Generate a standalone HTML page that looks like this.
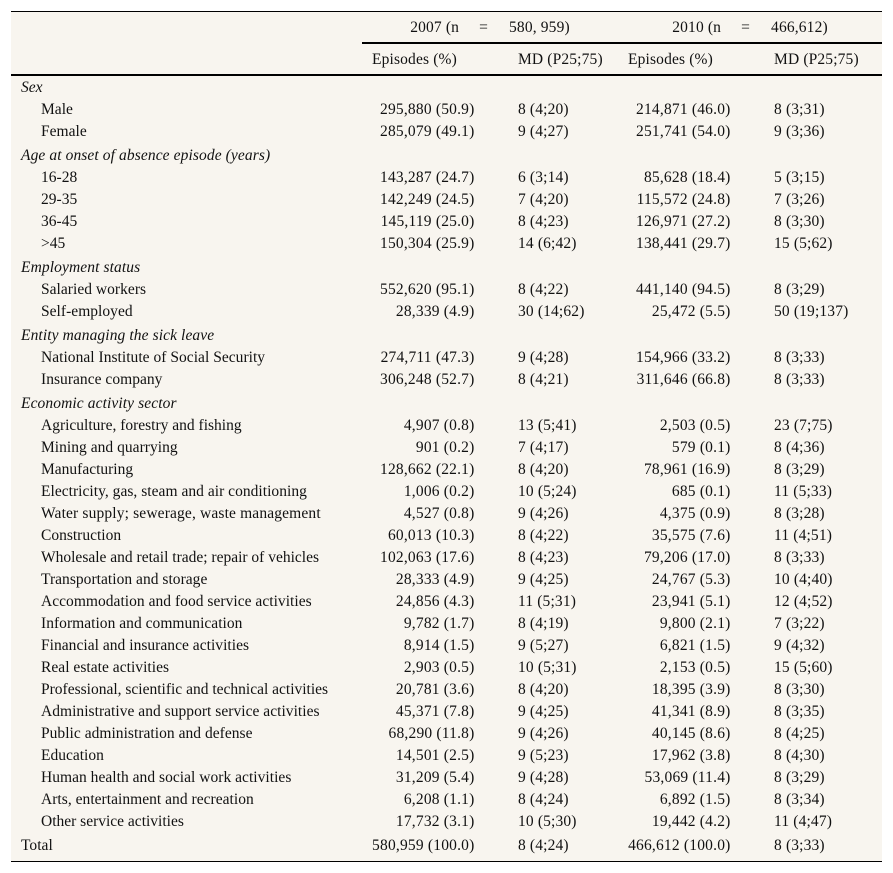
<!DOCTYPE html>
<html lang="en">
<head>
<meta charset="utf-8">
<title>Sick leave episodes table</title>
<style>
html,body{margin:0;padding:0;background:#fff;}
body{width:893px;height:873px;overflow:hidden;position:relative;}
table{position:absolute;left:11px;top:11px;width:871px;table-layout:fixed;border-collapse:separate;border-spacing:0;background:#f8f5ef;border-top:1px solid #000;border-bottom:1px solid #000;font-family:"Liberation Serif",serif;font-size:15.5px;color:#111;}
th,td{padding:2px 0 0 0;font-weight:normal;white-space:nowrap;height:20px;line-height:20px;}
th{letter-spacing:.15px;}
.top th{height:28px;border-bottom:2px solid #000;text-align:center;}
.top th.e{border-bottom:none;height:30px;}
.sub th{height:28px;border-bottom:2px solid #000;text-align:left;padding-left:10px;}
.sub th.e{padding-left:0;}
td.l{padding-left:30px;letter-spacing:.03px;}
td.v{text-align:right;padding-right:33.5px;letter-spacing:.2px;}
td.m{padding-left:10px;letter-spacing:.15px;}
tr.s td{font-style:italic;padding-left:10px;padding-top:4px;height:20px;letter-spacing:.1px;}
tr.s.f td{height:20px;padding-top:2px;letter-spacing:0;}
tr.t td{height:26px;padding-top:3px;line-height:22px;vertical-align:top;}
tr.t td.l{padding-left:10px;}
td.l.w{letter-spacing:.15px;}
td.l.n{letter-spacing:0;}
.eq{margin:0 17px 0 16px;}
</style>
</head>
<body>
<table>
<colgroup><col style="width:351px"><col style="width:146px"><col style="width:110px"><col style="width:146px"><col style="width:118px"></colgroup>
<thead>
<tr class="top"><th class="e"></th><th colspan="2">2007 (n <span class="eq">=</span> 580, 959)</th><th colspan="2">2010 (n <span class="eq">=</span> 466,612)</th></tr>
<tr class="sub"><th class="e"></th><th>Episodes (%)</th><th>MD (P25;75)</th><th>Episodes (%)</th><th>MD (P25;75)</th></tr>
</thead>
<tbody>
<tr class="s f"><td colspan="5">Sex</td></tr>
<tr><td class="l">Male</td><td class="v">295,880 (50.9)</td><td class="m">8 (4;20)</td><td class="v">214,871 (46.0)</td><td class="m">8 (3;31)</td></tr>
<tr><td class="l">Female</td><td class="v">285,079 (49.1)</td><td class="m">9 (4;27)</td><td class="v">251,741 (54.0)</td><td class="m">9 (3;36)</td></tr>
<tr class="s"><td colspan="5">Age at onset of absence episode (years)</td></tr>
<tr><td class="l">16-28</td><td class="v">143,287 (24.7)</td><td class="m">6 (3;14)</td><td class="v">85,628 (18.4)</td><td class="m">5 (3;15)</td></tr>
<tr><td class="l">29-35</td><td class="v">142,249 (24.5)</td><td class="m">7 (4;20)</td><td class="v">115,572 (24.8)</td><td class="m">7 (3;26)</td></tr>
<tr><td class="l">36-45</td><td class="v">145,119 (25.0)</td><td class="m">8 (4;23)</td><td class="v">126,971 (27.2)</td><td class="m">8 (3;30)</td></tr>
<tr><td class="l">&gt;45</td><td class="v">150,304 (25.9)</td><td class="m">14 (6;42)</td><td class="v">138,441 (29.7)</td><td class="m">15 (5;62)</td></tr>
<tr class="s"><td colspan="5">Employment status</td></tr>
<tr><td class="l">Salaried workers</td><td class="v">552,620 (95.1)</td><td class="m">8 (4;22)</td><td class="v">441,140 (94.5)</td><td class="m">8 (3;29)</td></tr>
<tr><td class="l">Self-employed</td><td class="v">28,339 (4.9)</td><td class="m">30 (14;62)</td><td class="v">25,472 (5.5)</td><td class="m">50 (19;137)</td></tr>
<tr class="s"><td colspan="5">Entity managing the sick leave</td></tr>
<tr><td class="l">National Institute of Social Security</td><td class="v">274,711 (47.3)</td><td class="m">9 (4;28)</td><td class="v">154,966 (33.2)</td><td class="m">8 (3;33)</td></tr>
<tr><td class="l">Insurance company</td><td class="v">306,248 (52.7)</td><td class="m">8 (4;21)</td><td class="v">311,646 (66.8)</td><td class="m">8 (3;33)</td></tr>
<tr class="s"><td colspan="5">Economic activity sector</td></tr>
<tr><td class="l n">Agriculture, forestry and fishing</td><td class="v">4,907 (0.8)</td><td class="m">13 (5;41)</td><td class="v">2,503 (0.5)</td><td class="m">23 (7;75)</td></tr>
<tr><td class="l">Mining and quarrying</td><td class="v">901 (0.2)</td><td class="m">7 (4;17)</td><td class="v">579 (0.1)</td><td class="m">8 (4;36)</td></tr>
<tr><td class="l n">Manufacturing</td><td class="v">128,662 (22.1)</td><td class="m">8 (4;20)</td><td class="v">78,961 (16.9)</td><td class="m">8 (3;29)</td></tr>
<tr><td class="l">Electricity, gas, steam and air conditioning</td><td class="v">1,006 (0.2)</td><td class="m">10 (5;24)</td><td class="v">685 (0.1)</td><td class="m">11 (5;33)</td></tr>
<tr><td class="l w">Water supply; sewerage, waste management</td><td class="v">4,527 (0.8)</td><td class="m">9 (4;26)</td><td class="v">4,375 (0.9)</td><td class="m">8 (3;28)</td></tr>
<tr><td class="l n">Construction</td><td class="v">60,013 (10.3)</td><td class="m">8 (4;22)</td><td class="v">35,575 (7.6)</td><td class="m">11 (4;51)</td></tr>
<tr><td class="l n">Wholesale and retail trade; repair of vehicles</td><td class="v">102,063 (17.6)</td><td class="m">8 (4;23)</td><td class="v">79,206 (17.0)</td><td class="m">8 (3;33)</td></tr>
<tr><td class="l">Transportation and storage</td><td class="v">28,333 (4.9)</td><td class="m">9 (4;25)</td><td class="v">24,767 (5.3)</td><td class="m">10 (4;40)</td></tr>
<tr><td class="l">Accommodation and food service activities</td><td class="v">24,856 (4.3)</td><td class="m">11 (5;31)</td><td class="v">23,941 (5.1)</td><td class="m">12 (4;52)</td></tr>
<tr><td class="l">Information and communication</td><td class="v">9,782 (1.7)</td><td class="m">8 (4;19)</td><td class="v">9,800 (2.1)</td><td class="m">7 (3;22)</td></tr>
<tr><td class="l">Financial and insurance activities</td><td class="v">8,914 (1.5)</td><td class="m">9 (5;27)</td><td class="v">6,821 (1.5)</td><td class="m">9 (4;32)</td></tr>
<tr><td class="l">Real estate activities</td><td class="v">2,903 (0.5)</td><td class="m">10 (5;31)</td><td class="v">2,153 (0.5)</td><td class="m">15 (5;60)</td></tr>
<tr><td class="l n">Professional, scientific and technical activities</td><td class="v">20,781 (3.6)</td><td class="m">8 (4;20)</td><td class="v">18,395 (3.9)</td><td class="m">8 (3;30)</td></tr>
<tr><td class="l">Administrative and support service activities</td><td class="v">45,371 (7.8)</td><td class="m">9 (4;25)</td><td class="v">41,341 (8.9)</td><td class="m">8 (3;35)</td></tr>
<tr><td class="l">Public administration and defense</td><td class="v">68,290 (11.8)</td><td class="m">9 (4;26)</td><td class="v">40,145 (8.6)</td><td class="m">8 (4;25)</td></tr>
<tr><td class="l n">Education</td><td class="v">14,501 (2.5)</td><td class="m">9 (5;23)</td><td class="v">17,962 (3.8)</td><td class="m">8 (4;30)</td></tr>
<tr><td class="l">Human health and social work activities</td><td class="v">31,209 (5.4)</td><td class="m">9 (4;28)</td><td class="v">53,069 (11.4)</td><td class="m">8 (3;29)</td></tr>
<tr><td class="l">Arts, entertainment and recreation</td><td class="v">6,208 (1.1)</td><td class="m">8 (4;24)</td><td class="v">6,892 (1.5)</td><td class="m">8 (3;34)</td></tr>
<tr><td class="l n">Other service activities</td><td class="v">17,732 (3.1)</td><td class="m">10 (5;30)</td><td class="v">19,442 (4.2)</td><td class="m">11 (4;47)</td></tr>
<tr class="t"><td class="l">Total</td><td class="v">580,959 (100.0)</td><td class="m">8 (4;24)</td><td class="v">466,612 (100.0)</td><td class="m">8 (3;33)</td></tr>
</tbody>
</table>
</body>
</html>
